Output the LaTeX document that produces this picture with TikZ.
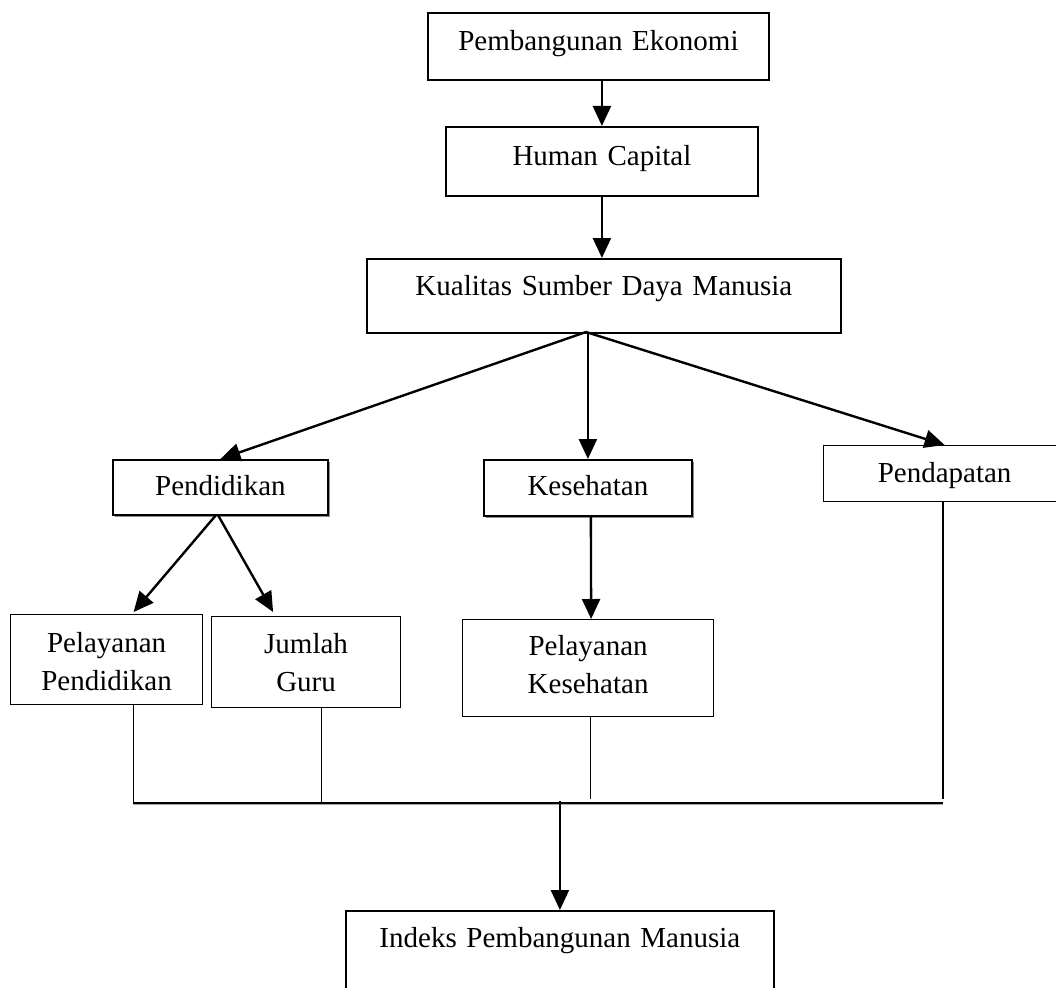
\documentclass[tikz,border=0pt]{standalone}
\usepackage{fontspec}
\setmainfont{Liberation Serif}
\usetikzlibrary{arrows.meta,shadows,calc}
\begin{document}
\begin{tikzpicture}[x=1pt,y=-1pt,
  box/.style={draw, line width=1.8pt, fill=white, rectangle, inner xsep=0pt, inner ysep=0pt,
    anchor=north west, font=\fontsize{29}{38}\selectfont, align=center},
  thinbox/.style={box, line width=1.2pt},
  arr/.style={line width=2.4pt, -{Triangle[length=20pt,width=18pt]}},
  ln/.style={line width=1.6pt},
  bus/.style={line width=1.6pt, preaction={draw=black!35, line width=1.6pt, transform canvas={yshift=-1.6pt}}},
  shad/.style={drop shadow={shadow xshift=2.5pt, shadow yshift=-2.5pt, fill=black!45, opacity=1}}]
\useasboundingbox (0,0) rectangle (1056,987);
\clip (0,0) rectangle (1056,987);
\fill[white] (0,0) rectangle (1056,987);

\node[box, text width=341pt, text height=38pt, text depth=29pt] (pe) at (427,12) {Pembangunan Ekonomi};
\node[box, text width=312pt, text height=39pt, text depth=30pt] (hc) at (445,126) {Human Capital};
\node[box, text width=474pt, text height=37pt, text depth=37pt] (kq) at (366,258) {Kualitas Sumber Daya Manusia};
\node[box, shad, text width=215pt, text height=36pt, text depth=19pt] (pdk) at (112,459) {Pendidikan};
\node[box, shad, text width=208pt, text height=36pt, text depth=20pt] (ks) at (483,459) {Kesehatan};
\node[thinbox, text width=242pt, text height=37pt, text depth=19pt] (pd) at (823,445) {Pendapatan};
\node[thinbox, text width=192pt, text height=38pt, text depth=52pt] (ppd) at (10,614) {Pelayanan\\Pendidikan};
\node[thinbox, text width=189pt, text height=37pt, text depth=54pt] (jg) at (211,616) {Jumlah\\Guru};
\node[thinbox, text width=251pt, text height=36pt, text depth=61pt] (pk) at (462,619) {Pelayanan\\Kesehatan};
\node[box, text width=428pt, text height=37pt, text depth=53pt] (ipm) at (345,910) {Indeks Pembangunan Manusia};

\coordinate (apex) at (586,332);
\coordinate (busL) at (133,803);
\coordinate (busR) at (943,803);

\draw[arr] (pe.south -| hc.north) -- (hc.north);
\draw[arr] (hc.south) -- (hc.south |- kq.north);
\draw[arr] (apex) -- (pdk.north);
\draw[arr] (kq.south -| ks.north) -- (ks.north);
\draw[arr] (apex) -- (pd.north);
\draw[arr] ([xshift=-5pt]pdk.south) -- ([xshift=27pt,yshift=2pt]ppd.north);
\draw[arr] ([xshift=-2pt]pdk.south) -- ([xshift=-33pt,yshift=4pt]jg.north);
\draw[arr] ([xshift=3pt]ks.south) -- ([xshift=3pt]pk.north);

\draw[ln] ([xshift=27pt]ppd.south) -- ([xshift=27pt]ppd.south |- busL);
\draw[ln] ([xshift=15.5pt]jg.south) -- ([xshift=15.5pt]jg.south |- busL);
\draw[ln] ([xshift=2.5pt]pk.south) -- ([xshift=2.5pt,yshift=4pt]pk.south |- busL);
\draw[ln] (pd.south -| busR) -- ([yshift=4pt]busR);
\draw[bus] (busL) -- (busR);
\draw[arr] ([yshift=2pt]busL -| ipm.north) -- (ipm.north);
\end{tikzpicture}
\end{document}
